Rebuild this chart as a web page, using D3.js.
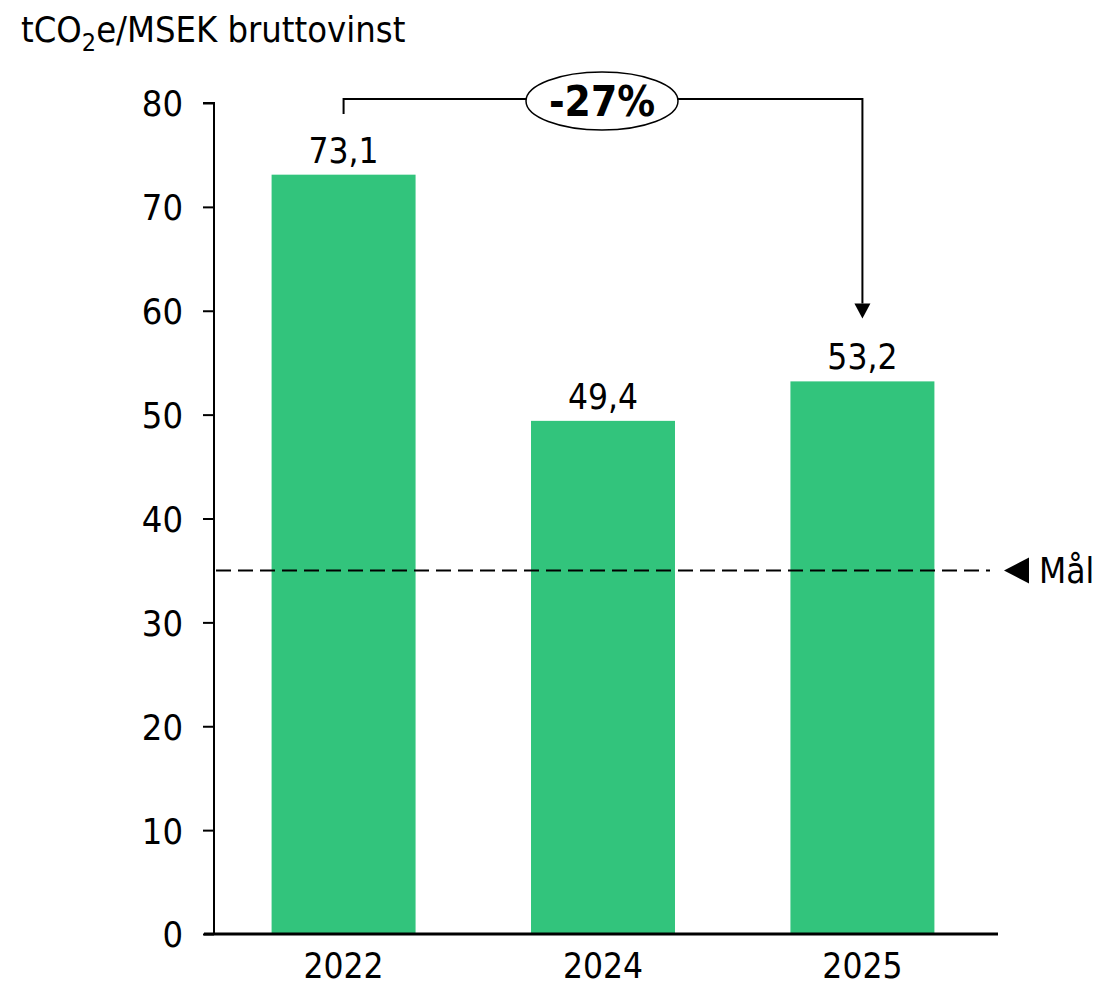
<!DOCTYPE html>
<html>
<head>
<meta charset="utf-8">
<script src="https://cdn.jsdelivr.net/npm/d3@7"></script>
<style>
  body { margin: 0; background: #fff; }
  text { font-family: "DejaVu Sans Condensed", "DejaVu Sans", sans-serif; fill: #000; }
</style>
</head>
<body>
<svg width="1101" height="986"></svg>
<script>
const years = ["2022", "2024", "2025"];
const values = [73.1, 49.4, 53.2];
const valueLabels = ["73,1", "49,4", "53,2"];
const yTicks = [0, 10, 20, 30, 40, 50, 60, 70, 80];
const target = 35;
const targetLabel = "Mål";
const changeLabel = "-27%";

const svg = d3.select("svg");
const margin = { left: 214, right: 109, top: 103, bottom: 52 };
const width = 1101 - margin.left - margin.right;
const height = 986 - margin.top - margin.bottom;
const fontFam = "DejaVu Sans Condensed, DejaVu Sans, sans-serif";

const g = svg.append("g")
  .attr("transform", "translate(" + margin.left + "," + margin.top + ")");

const x = d3.scaleBand()
  .domain(years)
  .range([0, 778])
  .paddingInner(0.445)
  .paddingOuter(0.222);

const y = d3.scaleLinear()
  .domain([0, 80])
  .range([height, 0]);

// y axis
const yAxis = g.append("g")
  .call(d3.axisLeft(y).tickValues(yTicks).tickSize(11).tickPadding(20));
yAxis.select(".domain").attr("stroke", "#000").attr("stroke-width", 2)
  .attr("d", "M0," + y(0) + "V" + y(80) + "H-11");
yAxis.selectAll(".tick line").attr("stroke", "#000").attr("stroke-width", 2);
yAxis.selectAll(".tick text")
  .attr("font-size", "36px")
  .attr("font-family", fontFam)
  .attr("dy", "0.36em");

// bars
g.selectAll("rect.bar")
  .data(values)
  .enter()
  .append("rect")
  .attr("class", "bar")
  .attr("x", (d, i) => x(years[i]))
  .attr("width", x.bandwidth())
  .attr("y", d => y(d))
  .attr("height", d => y(0) - y(d))
  .attr("fill", "#32c47c");

// value labels
g.selectAll("text.val")
  .data(values)
  .enter()
  .append("text")
  .attr("class", "val")
  .attr("x", (d, i) => x(years[i]) + x.bandwidth() / 2)
  .attr("y", d => y(d) - 12)
  .attr("text-anchor", "middle")
  .attr("font-size", "35px")
  .text((d, i) => valueLabels[i]);

// x axis
const xAxis = g.append("g")
  .attr("transform", "translate(0," + height + ")")
  .call(d3.axisBottom(x).tickSize(0).tickPadding(18));
xAxis.select(".domain").attr("stroke", "#000").attr("stroke-width", 3)
  .attr("d", "M-10,0H784");
xAxis.selectAll(".tick text")
  .attr("font-size", "35px")
  .attr("font-family", fontFam)
  .attr("dy", "0.75em");

// target line
g.append("line")
  .attr("x1", 2)
  .attr("x2", 776)
  .attr("y1", y(target))
  .attr("y2", y(target))
  .attr("stroke", "#000")
  .attr("stroke-width", 2)
  .attr("stroke-dasharray", "15,7");

const mx = 790;
g.append("path")
  .attr("d", "M" + mx + "," + y(target) + "l25,-13v26z")
  .attr("fill", "#000");
g.append("text")
  .attr("x", mx + 35)
  .attr("y", y(target))
  .attr("dy", "0.36em")
  .attr("font-size", "35px")
  .text(targetLabel);

// change annotation
const x0 = x(years[0]) + x.bandwidth() / 2;
const x1 = x(years[2]) + x.bandwidth() / 2;
const yTop = -4;
g.append("path")
  .attr("d", "M" + x0 + "," + (yTop + 15) + "V" + yTop + "H" + x1 + "V" + (y(values[2]) - 78))
  .attr("fill", "none")
  .attr("stroke", "#000")
  .attr("stroke-width", 2);
g.append("path")
  .attr("d", "M" + (x1 - 8) + "," + (y(values[2]) - 78) + "h16l-8,15z")
  .attr("fill", "#000");

const ex = (x0 + x1) / 2 - 1;
g.append("ellipse")
  .attr("cx", ex)
  .attr("cy", yTop + 2)
  .attr("rx", 76)
  .attr("ry", 29)
  .attr("fill", "#fff")
  .attr("stroke", "#000")
  .attr("stroke-width", 1.5);
g.append("text")
  .attr("x", ex)
  .attr("y", yTop + 2)
  .attr("dy", "0.36em")
  .attr("text-anchor", "middle")
  .attr("font-size", "42px")
  .attr("font-weight", "bold")
  .text(changeLabel);

// title
const title = svg.append("text")
  .attr("x", 21)
  .attr("y", 42)
  .attr("font-size", "36px");
title.append("tspan").text("tCO");
title.append("tspan").attr("font-size", "25px").attr("dy", 9).text("2");
title.append("tspan").attr("dy", -9).text("e/MSEK bruttovinst");
</script>
</body>
</html>
